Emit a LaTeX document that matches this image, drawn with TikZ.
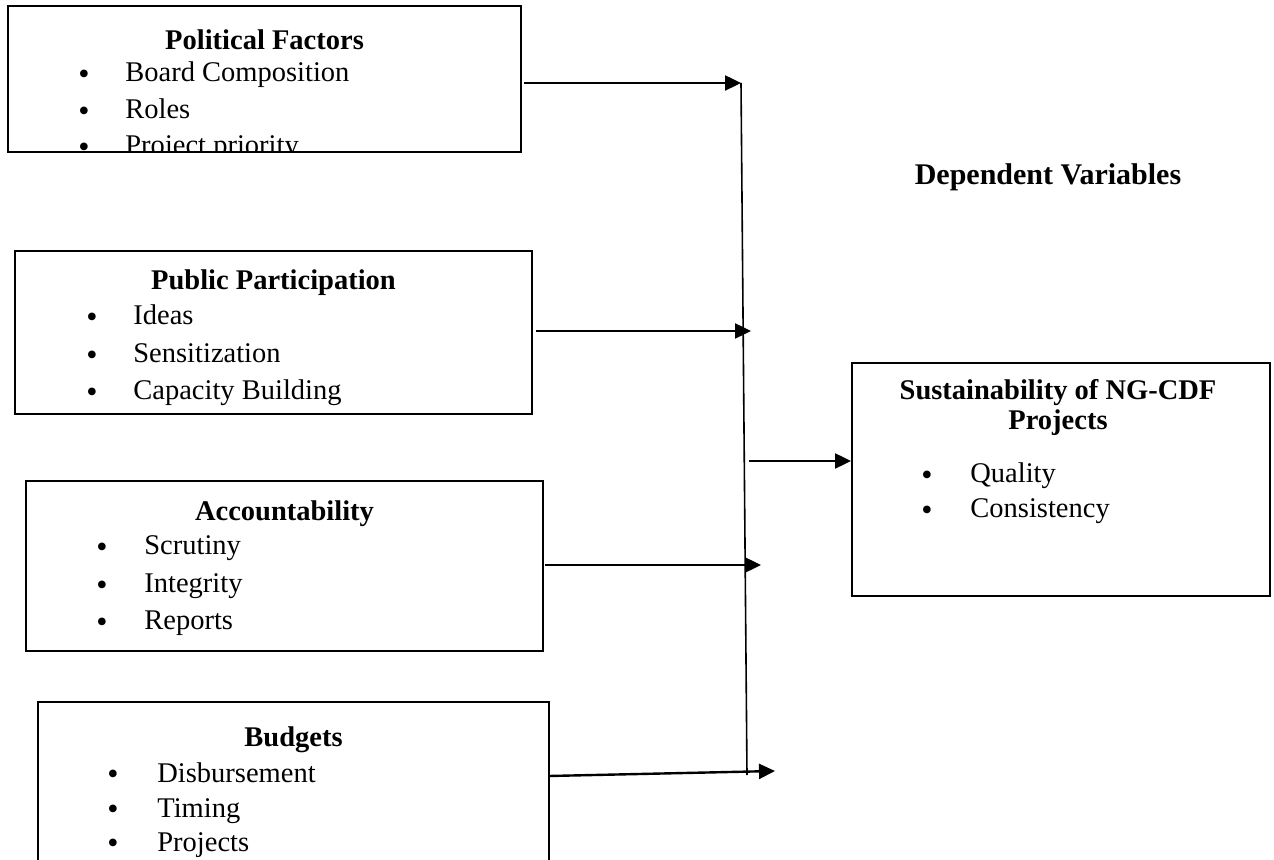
\documentclass[tikz,border=0pt]{standalone}
\usepackage{fontspec}
\setmainfont{Liberation Serif}
\usetikzlibrary{arrows.meta,fit}
\begin{document}
\begin{tikzpicture}[x=0.5pt,y=-0.5pt,
  panel/.style={draw,line width=1pt,inner sep=0pt,rectangle},
  head/.style={font=\fontsize{14.25}{15}\selectfont\bfseries,inner sep=0pt,anchor=center,align=center},
  item/.style={font=\fontsize{14.25}{17}\selectfont,inner sep=0pt,anchor=west,text height=0.7em,text depth=0.2em},
  dot/.style={font=\fontsize{16}{17}\selectfont,inner sep=0pt,anchor=center},
  link/.style={line width=1.2pt,-{Triangle[length=8pt,width=7.5pt]}},
  spine/.style={line width=0.8pt}]
\clip (0,0) rectangle (1274,860);
\fill[white] (0,0) rectangle (1274,860);

% independent variable panels
\node[panel,fit={(8,6) (521,152)}] (pol) {};
\node[panel,fit={(15,251) (532,414)}] (pub) {};
\node[panel,fit={(26,481) (543,651)}] (acc) {};
\node[panel,fit={(38,702) (549,900)}] (bud) {};

% Political Factors (last line runs under the frame)
\begin{scope}
  \clip (8,6) rectangle (521,151);
  \node[head] (polT) at (264.5,40) {Political Factors};
  \node[dot] (polB1) at (84,77) {•};
  \node[item] (polI1) at (125,77) {Board Composition};
  \node[dot] (polB2) at (84,114) {•};
  \node[item] (polI2) at (125,114) {Roles};
  \node[dot] (polB3) at (84,150) {•};
  \node[item] (polI3) at (125,150) {Project priority};
\end{scope}

% Public Participation
\node[head] (pubT) at (273.5,283) {Public Participation};
\node[dot] (pubB1) at (92,320) {•};
\node[item] (pubI1) at (133,320) {Ideas};
\node[dot] (pubB2) at (92,358) {•};
\node[item] (pubI2) at (133,358) {Sensitization};
\node[dot] (pubB3) at (92,395) {•};
\node[item] (pubI3) at (133,395) {Capacity Building};

% Accountability
\node[head] (accT) at (284.5,514) {Accountability};
\node[dot] (accB1) at (102,550) {•};
\node[item] (accI1) at (144,550) {Scrutiny};
\node[dot] (accB2) at (102,588) {•};
\node[item] (accI2) at (144,588) {Integrity};
\node[dot] (accB3) at (102,625) {•};
\node[item] (accI3) at (144,625) {Reports};

% Budgets
\node[head] (budT) at (293.5,740) {Budgets};
\node[dot] (budB1) at (113,777) {•};
\node[item] (budI1) at (157,777) {Disbursement};
\node[dot] (budB2) at (113,812) {•};
\node[item] (budI2) at (157,812) {Timing};
\node[dot] (budB3) at (113,846) {•};
\node[item] (budI3) at (157,846) {Projects};

% dependent variable panel
\node[head,font=\fontsize{15}{16}\selectfont\bfseries] (dvT) at (1048,177) {Dependent Variables};
\node[panel,fit={(852,363) (1270,596)}] (sus) {};
\node[head] (susT) at (1058,408) {Sustainability of NG-CDF\\Projects};
\node[dot] (susB1) at (927,478) {•};
\node[item] (susI1) at (970,478) {Quality};
\node[dot] (susB2) at (927,513) {•};
\node[item] (susI2) at (970,513) {Consistency};

% connector ends
\coordinate (s1) at (524,83);
\coordinate (e1) at (741,83);
\coordinate (s2) at (536,331);
\coordinate (e2) at (751,331);
\coordinate (s3) at (545,565);
\coordinate (e3) at (761,565);
\coordinate (s4) at (549,776);
\coordinate (e4) at (775,771);
\coordinate (s5) at (749,461);
\coordinate (vTop) at (741,83);
\coordinate (vBot) at (747,775);

\draw[spine] (vTop) -- (vBot);
\draw[link] (s1) -- (e1);
\draw[link] (s2) -- (e2);
\draw[link] (s3) -- (e3);
\draw[link] (s4) -- (e4);
\draw[link] (s5) -- (sus.west |- s5);
\end{tikzpicture}
\end{document}
